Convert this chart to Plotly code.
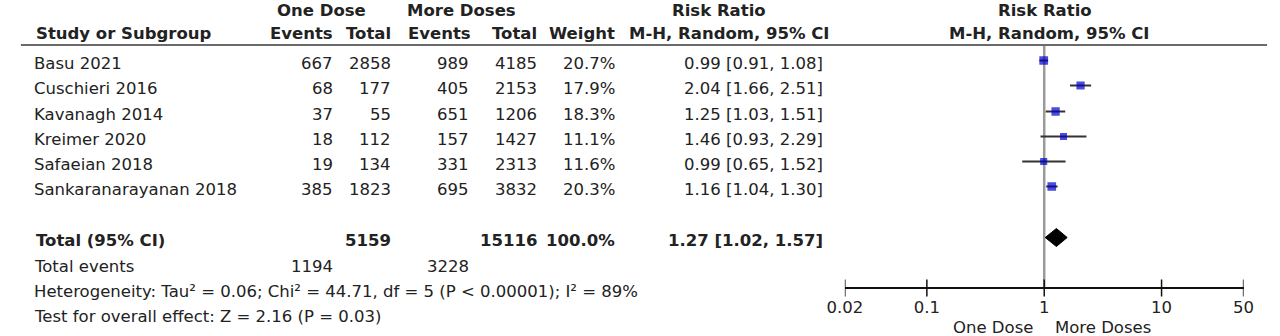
import plotly.graph_objects as go
import math

# ---------------- data ----------------
studies = ["Basu 2021", "Cuschieri 2016", "Kavanagh 2014", "Kreimer 2020",
           "Safaeian 2018", "Sankaranarayanan 2018"]
one_events = [667, 68, 37, 18, 19, 385]
one_total = [2858, 177, 55, 112, 134, 1823]
more_events = [989, 405, 651, 157, 331, 695]
more_total = [4185, 2153, 1206, 1427, 2313, 3832]
weight = [20.7, 17.9, 18.3, 11.1, 11.6, 20.3]
rr = [0.99, 2.04, 1.25, 1.46, 0.99, 1.16]
rr_lo = [0.91, 1.66, 1.03, 0.93, 0.65, 1.04]
rr_hi = [1.08, 2.51, 1.51, 2.29, 1.52, 1.30]

total_one = 5159
total_more = 15116
total_weight = 100.0
total_rr = 1.27
total_lo = 1.02
total_hi = 1.57
events_one = 1194
events_more = 3228
heterogeneity = "Heterogeneity: Tau² = 0.06; Chi² = 44.71, df = 5 (P < 0.00001); I² = 89%"
overall_test = "Test for overall effect: Z = 2.16 (P = 0.03)"

tick_vals = [0.02, 0.1, 1, 10, 50]
tick_text = ["0.02", "0.1", "1", "10", "50"]
favours_left = "One Dose"
favours_right = "More Doses"

# ---------------- layout constants ----------------
W, H = 1280, 336
FONT = "DejaVu Sans"
FS = 16.5
TXT = "#222222"
row_y = [63, 88, 114, 139, 164, 189]
total_y = 240
events_y = 266
het_y = 291
test_y = 316
head1_y = 10
head2_y = 33
rule_y = 45
axis_y = 288
MARK_DY = -2.5

col_name = 16
col_one_ev = 322
col_one_tot = 382
col_more_ev = 461
col_more_tot = 531
col_weight = 611
col_ci = 824

fig = go.Figure()

annotations = []


def txt(x, y, s, anchor="left", bold=False, xref="paper"):
    annotations.append(dict(
        x=x / W if xref == "paper" else x, y=y, xref=xref, yref="y",
        text=f"<b>{s}</b>" if bold else s, showarrow=False,
        xanchor=anchor, yanchor="middle", borderpad=0, borderwidth=0,
        font=dict(family=FONT, size=FS, color=TXT)))


# headers
txt(311, head1_y, "One Dose", "center", True)
txt(454, head1_y, "More Doses", "center", True)
txt(717, head1_y, "Risk Ratio", "center", True)
txt(1051, head1_y, "Risk Ratio", "center", True)
txt(col_name + 2, head2_y, "Study or Subgroup", "left", True)
txt(col_one_ev, head2_y, "Events", "right", True)
txt(col_one_tot, head2_y, "Total", "right", True)
txt(col_more_ev + 2, head2_y, "Events", "right", True)
txt(col_more_tot, head2_y, "Total", "right", True)
txt(col_weight, head2_y, "Weight", "right", True)
txt(831, head2_y, "M-H, Random, 95% CI", "right", True)
txt(1055, head2_y, "M-H, Random, 95% CI", "center", True)

# study rows
for i, s in enumerate(studies):
    y = row_y[i]
    txt(col_name, y, s)
    txt(col_one_ev, y, str(one_events[i]), "right")
    txt(col_one_tot, y, str(one_total[i]), "right")
    txt(col_more_ev, y, str(more_events[i]), "right")
    txt(col_more_tot, y, str(more_total[i]), "right")
    txt(col_weight, y, f"{weight[i]:.1f}%", "right")
    txt(col_ci, y, f"{rr[i]:.2f} [{rr_lo[i]:.2f}, {rr_hi[i]:.2f}]", "right")

# total row
txt(col_name + 2, total_y, "Total (95% CI)", "left", True)
txt(col_one_tot, total_y, str(total_one), "right", True)
txt(col_more_tot, total_y, str(total_more), "right", True)
txt(col_weight, total_y, f"{total_weight:.1f}%", "right", True)
txt(col_ci, total_y, f"{total_rr:.2f} [{total_lo:.2f}, {total_hi:.2f}]", "right", True)

# footer
txt(col_name, events_y, "Total events")
txt(col_one_ev, events_y, str(events_one), "right")
txt(col_more_ev, events_y, str(events_more), "right")
txt(col_name, het_y, heterogeneity)
txt(col_name, test_y, overall_test)

# favours labels
annotations.append(dict(x=0, y=327, xref="x", yref="y", text=favours_left,
                        showarrow=False, xanchor="right", yanchor="middle",
                        xshift=-10, borderpad=0,
                        font=dict(family=FONT, size=FS, color=TXT)))
annotations.append(dict(x=0, y=327, xref="x", yref="y", text=favours_right,
                        showarrow=False, xanchor="left", yanchor="middle",
                        xshift=10, borderpad=0,
                        font=dict(family=FONT, size=FS, color=TXT)))

# ---------------- forest marks ----------------
mark_y = [y + MARK_DY for y in row_y]
ci_x, ci_y = [], []
for i in range(len(studies)):
    ci_x += [rr_lo[i], rr_hi[i], None]
    ci_y += [mark_y[i], mark_y[i], None]
fig.add_trace(go.Scatter(x=ci_x, y=ci_y, mode="lines",
                         line=dict(color="#333333", width=2),
                         hoverinfo="skip", showlegend=False))
fig.add_trace(go.Scatter(x=rr, y=mark_y, mode="markers",
                         marker=dict(symbol="square", color="#0000C8",
                                     size=[5 + 0.18 * w for w in weight],
                                     line=dict(width=0)),
                         showlegend=False))
# diamond
dy = 9
ty = total_y + MARK_DY
fig.add_trace(go.Scatter(x=[total_lo, total_rr, total_hi, total_rr, total_lo],
                         y=[ty, ty - dy, ty, ty + dy, ty],
                         mode="lines", fill="toself", fillcolor="#000000",
                         line=dict(color="#000000", width=1),
                         hoverinfo="skip", showlegend=False))
# axis tick marks (crossing)
fig.add_trace(go.Scatter(x=tick_vals, y=[axis_y] * len(tick_vals), mode="markers",
                         marker=dict(symbol="line-ns", size=12,
                                     line=dict(color="#111111", width=1.5)),
                         hoverinfo="skip", showlegend=False))

shapes = [
    dict(type="line", xref="paper", yref="y", x0=3 / W, x1=1278 / W,
         y0=rule_y, y1=rule_y, line=dict(color="#6a6a6a", width=2)),
    dict(type="line", xref="x", yref="y", x0=1, x1=1, y0=rule_y, y1=axis_y,
         line=dict(color="#9a9a9a", width=2.5), layer="below"),
]

x0px, x1px = 846, 1254
fig.update_layout(
    width=W, height=H, margin=dict(l=0, r=0, t=0, b=0),
    paper_bgcolor="white", plot_bgcolor="white",
    showlegend=False,
    annotations=annotations, shapes=shapes,
    xaxis=dict(type="log", domain=[x0px / W, x1px / W],
               range=[math.log10(tick_vals[0]), math.log10(tick_vals[-1])],
               anchor="free", position=(H - axis_y) / H,
               showline=True, linecolor="#111111", linewidth=1.5,
               showgrid=False, zeroline=False,
               tickmode="array", tickvals=tick_vals, ticktext=tick_text,
               ticks="outside", ticklen=4, tickcolor="rgba(0,0,0,0)",
               tickfont=dict(family=FONT, size=FS, color=TXT)),
    yaxis=dict(range=[H, 0], domain=[0, 1], visible=False, showgrid=False,
               zeroline=False),
)

fig.write_html("out.html", config={"displayModeBar": False},
               post_script="document.body.style.margin='0';"
                           "document.body.style.overflow='hidden';")
